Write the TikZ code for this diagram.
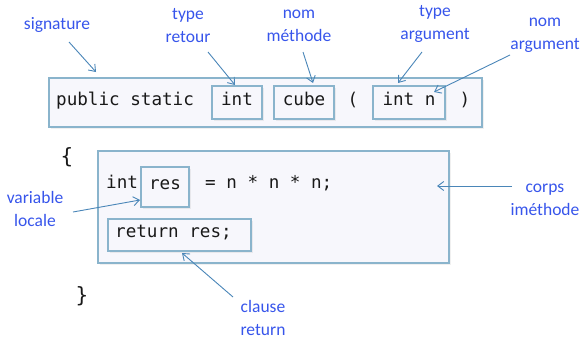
\documentclass[tikz,border=0pt]{standalone}
\usepackage{fontspec}
\usetikzlibrary{arrows.meta,shadows}
\newfontfamily\codefont{DejaVu Sans Mono}
\newfontfamily\labfont{Carlito}
\definecolor{boxline}{RGB}{138,180,204}
\definecolor{boxfill}{RGB}{247,247,252}
\definecolor{labblue}{RGB}{55,85,235}
\definecolor{arrblue}{RGB}{74,134,184}
\tikzset{
  box/.style={draw=boxline,fill=boxfill,line width=2.2pt,inner sep=0pt,
    drop shadow={opacity=0.12,shadow xshift=2pt,shadow yshift=-2pt}},
  code/.style={font=\codefont\fontsize{17.6}{21}\selectfont,text=black!90,inner sep=0pt,
    text height=0.75em,text depth=0.2em},
  lab/.style={font=\labfont\fontsize{17.5}{23}\selectfont,text=labblue,align=center,inner sep=0pt},
  arr/.style={draw=arrblue,line width=0.9pt,-{Straight Barb[length=6pt,width=9pt]}}
}
\begin{document}
\begin{tikzpicture}[x=1pt,y=-1pt]
\useasboundingbox (0,0) rectangle (581,340);
% signature box
\node[box,minimum width=433pt,minimum height=49pt] (sig) at (265.5,102.5) {};
\node[box,code,minimum width=50pt,minimum height=33pt] (intT) at (237,102.5) {int};
\node[box,code,minimum width=60pt,minimum height=33pt] (cube) at (304,102.5) {cube};
\node[box,code,minimum width=72pt,minimum height=33pt] (intn) at (409,102.5) {int n};
\node[code,anchor=west] (pub) at (56,102.5) {public static};
\node[code] (lpar) at (353,102.5) {(};
\node[code] (rpar) at (465,102.5) {)};
% body
\node[code,font=\codefont\fontsize{21}{24}\selectfont] (lbr) at (67,161) {\{};
\node[code,font=\codefont\fontsize{21}{24}\selectfont] (rbr) at (82,300) {\}};
\node[box,minimum width=351pt,minimum height=112pt] (body) at (273.5,207) {};
\node[code,anchor=west] (intv) at (106,186) {int};
\node[box,code,minimum width=48pt,minimum height=40pt] (res) at (165,187) {res};
\node[code,anchor=west] (expr) at (205,186) {= n * n * n;};
\node[box,code,minimum width=143pt,minimum height=32pt] (ret) at (179.5,235) {};
\node[code,anchor=west] (rett) at (115,235) {return res;};
% labels
\node[lab] (lsig) at (57,25) {signature};
\node[lab] (ltyp) at (188,25.5) {type\\retour};
\node[lab] (lnom) at (299,25.5) {nom\\méthode};
\node[lab] (ltarg) at (435,24) {type\\argument};
\node[lab] (lnarg) at (545,35) {nom\\argument};
\node[lab] (lvar) at (35,208.5) {variable\\locale};
\node[lab] (lcor) at (545,199.5) {corps\\iméthode};
\node[lab] (lcla) at (263,318) {clause\\return};
% arrow ends
\coordinate (s1) at (69,42);   \coordinate (e1) at (96,72);
\coordinate (s2) at (208,52);  \coordinate (e2) at (235,85);
\coordinate (s3) at (303,52);  \coordinate (e3) at (313,83);
\coordinate (s4) at (422,52);  \coordinate (e4) at (398,83);
\coordinate (s5) at (510,55);  \coordinate (e5) at (434,92);
\coordinate (s6) at (73,212);  \coordinate (e6) at (140,200);
\coordinate (s7) at (512,186); \coordinate (e7) at (437,186);
\coordinate (s8) at (233,297); \coordinate (e8) at (182,253);
\draw[arr] (s1) -- (e1);
\draw[arr] (s2) -- (e2);
\draw[arr] (s3) -- (e3);
\draw[arr] (s4) -- (e4);
\draw[arr] (s5) -- (e5);
\draw[arr] (s6) -- (e6);
\draw[arr] (s7) -- (e7);
\draw[arr] (s8) -- (e8);
\end{tikzpicture}
\end{document}
